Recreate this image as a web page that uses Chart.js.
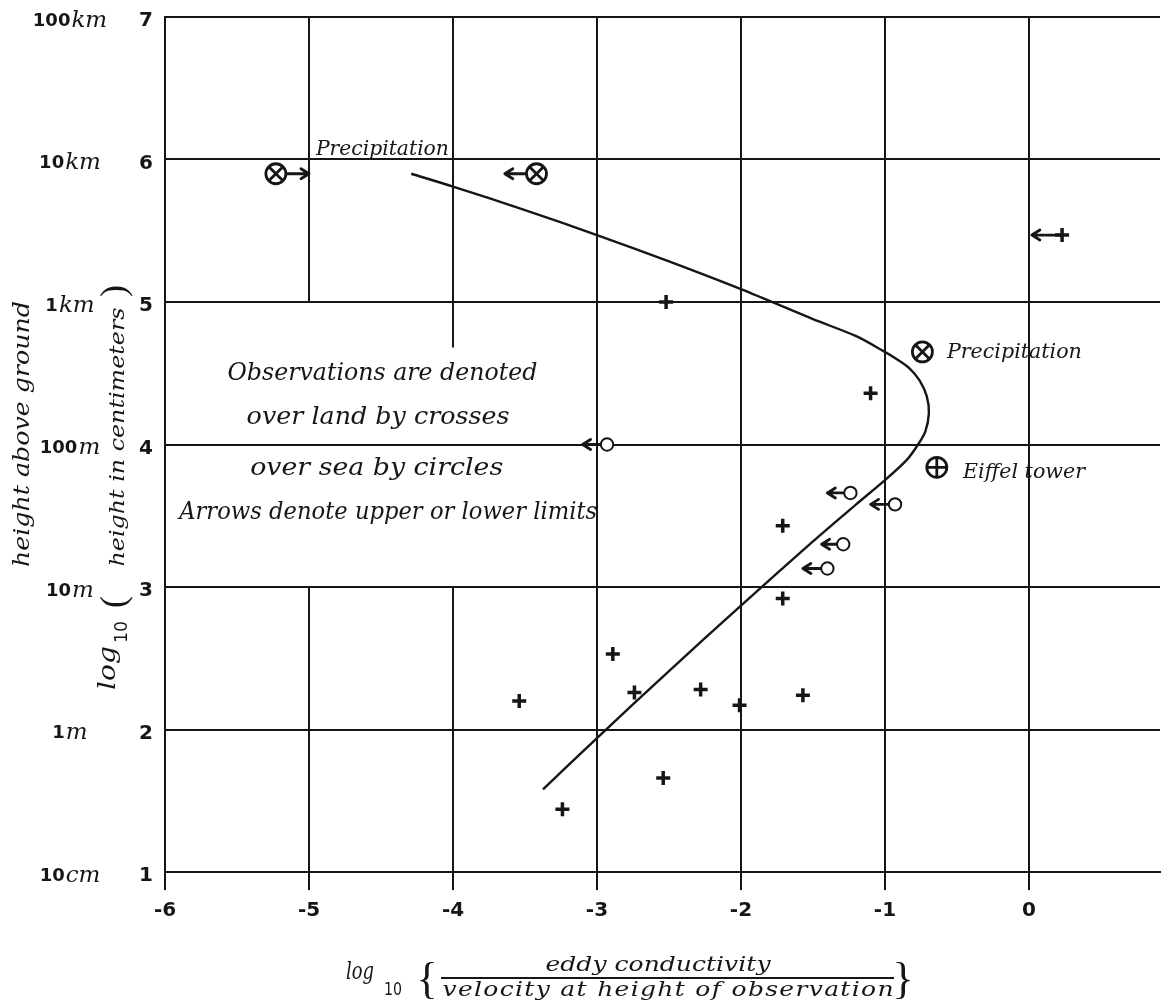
<!DOCTYPE html>
<html><head><meta charset="utf-8">
<script src="https://cdn.jsdelivr.net/npm/chart.js@4.4.1/dist/chart.umd.min.js"></script>
<style>html,body{margin:0;padding:0;background:#fff;overflow:hidden;}#wrap{width:1164px;height:1003px;position:relative;}canvas{display:block;}</style>
</head><body><div id="wrap"><canvas id="c"></canvas></div>
<script>
// ---------- data ----------
const xTicks = [-6, -5, -4, -3, -2, -1, 0];
const yTicks = [1, 2, 3, 4, 5, 6, 7];
const heightLabels = ['10cm', '1m', '10m', '100m', '1km', '10km', '100km'];

const curveX = [-4.29, -4.0, -3.5, -3.0, -2.5, -2.0, -1.5, -1.2, -1.01, -0.92, -0.83, -0.76, -0.71, -0.695, -0.72, -0.77, -0.85, -1.0, -1.2, -1.5, -2.0, -2.5, -3.0, -3.375];
const curveY = [5.90, 5.81, 5.645, 5.47, 5.285, 5.09, 4.88, 4.76, 4.655, 4.60, 4.535, 4.45, 4.34, 4.22, 4.09, 4.00, 3.89, 3.75, 3.58, 3.32, 2.87, 2.41, 1.94, 1.58];

const landX = [-2.52, -1.10, -1.71, -1.71, -2.89, -3.54, -2.74, -2.28, -2.01, -1.57, -2.54, -3.24, 0.23];
const landY = [5.00, 4.36, 3.43, 2.92, 2.53, 2.20, 2.26, 2.28, 2.17, 2.24, 1.66, 1.44, 5.47];
const landLimit = [null, null, null, null, null, null, null, null, null, null, null, null, 0.02];

const seaX = [-2.93, -1.24, -0.93, -1.29, -1.40];
const seaY = [4.00, 3.66, 3.58, 3.30, 3.13];
const seaLimit = [-3.10, -1.40, -1.10, -1.44, -1.57];

const precipX = [-5.23, -3.42, -0.74];
const precipY = [5.90, 5.90, 4.65];
const precipLimit = [-5.0, -3.64, null];

const eiffelX = [-0.64];
const eiffelY = [3.84];

const noteTexts = ['Precipitation', 'Precipitation', 'Eiffel tower'];
const noteX = [-4.49, -0.57, -0.458];
const noteY = [6.03, 4.607, 3.765];

const blockLines = ['Observations are denoted', 'over land by crosses', 'over sea by circles', 'Arrows denote upper or lower limits'];
const blockX = [-4.49, -4.52, -4.53, -4.45];
const blockY = [4.50, 4.186, 3.835, 3.526];

// grid lines interrupted around the text block: [x, [[yFrom,yTo],...]]
const partialGrid = [[-5, [[1, 3], [5, 7]]], [-4, [[1, 3], [4.68, 7]]]];

// ---------- style ----------
const INK = '#161616';
const SCRIPT = '"DejaVu Serif", "Liberation Serif", serif';
const SANS = '"DejaVu Sans", sans-serif';

const pts = (xs, ys) => xs.map((x, i) => ({ x, y: ys[i] }));

function fitText(ctx, text, x, y, width, font, align) {
  ctx.save();
  ctx.font = font;
  ctx.letterSpacing = '0px';
  const w = ctx.measureText(text).width;
  let sx = 1, sp = 0;
  if (width) {
    sx = Math.max(0.7, Math.min(1.25, width / w));
    sp = (width - w * sx) / Math.max(1, text.length - 1) / sx;
  }
  ctx.letterSpacing = sp + 'px';
  const w2 = (ctx.measureText(text).width - sp) * sx;
  ctx.textAlign = 'left';
  const x0 = align === 'center' ? x - w2 / 2 : x;
  ctx.translate(x0, y);
  ctx.scale(sx, 1);
  ctx.fillText(text, 0, 0);
  ctx.restore();
}

function rotText(ctx, text, cx, cy, len, font) {
  ctx.save();
  ctx.translate(cx, cy);
  ctx.rotate(-Math.PI / 2);
  ctx.textBaseline = 'middle';
  fitText(ctx, text, 0, 0, len, font, 'center');
  ctx.restore();
}

function arrow(ctx, x0, y, x1) {
  const d = Math.sign(x1 - x0);
  ctx.beginPath();
  ctx.moveTo(x0, y); ctx.lineTo(x1, y);
  ctx.moveTo(x1 - d * 8, y - 5); ctx.lineTo(x1, y); ctx.lineTo(x1 - d * 8, y + 5);
  ctx.stroke();
}

const paper = {
  id: 'paper',
  beforeDraw(chart) {
    const c = chart.ctx;
    c.save(); c.fillStyle = '#fff'; c.fillRect(0, 0, chart.width, chart.height); c.restore();
  },
  beforeDatasetsDraw(chart) {
    const { ctx, scales: { x, y } } = chart;
    ctx.save();
    ctx.strokeStyle = INK; ctx.lineWidth = 2;
    partialGrid.forEach(([gx, spans]) => {
      const px = x.getPixelForValue(gx);
      spans.forEach(([a, b]) => {
        ctx.beginPath(); ctx.moveTo(px, y.getPixelForValue(a)); ctx.lineTo(px, y.getPixelForValue(b)); ctx.stroke();
      });
    });
    // limit arrows
    ctx.lineWidth = 2.8; ctx.lineCap = 'round'; ctx.lineJoin = 'round';
    const arrows = (xs, ys, lim) => xs.forEach((vx, i) => {
      if (lim[i] === null) return;
      arrow(ctx, x.getPixelForValue(vx), y.getPixelForValue(ys[i]), x.getPixelForValue(lim[i]));
    });
    arrows(landX, landY, landLimit);
    arrows(seaX, seaY, seaLimit);
    arrows(precipX, precipY, precipLimit);
    ctx.restore();
  },
  afterDatasetsDraw(chart) {
    const { ctx, scales: { x, y } } = chart;
    ctx.save();
    ctx.fillStyle = INK;
    ctx.textBaseline = 'alphabetic';
    // notes
    const noteW = [133, 135, 122];
    const noteAlign = ['center', 'left', 'left'];
    noteTexts.forEach((t, i) => {
      fitText(ctx, t, x.getPixelForValue(noteX[i]), y.getPixelForValue(noteY[i]), noteW[i], 'italic 21px ' + SCRIPT, noteAlign[i]);
    });
    // block text
    ctx.textBaseline = 'middle';
    const blockW = [310, 263, 253, 418];
    blockLines.forEach((t, i) => {
      fitText(ctx, t, x.getPixelForValue(blockX[i]), y.getPixelForValue(blockY[i]), blockW[i], 'italic 25px ' + SCRIPT, 'center');
    });
    // height labels
    yTicks.forEach((v, i) => {
      const m = heightLabels[i].match(/^(\d+)(.*)$/);
      const py = y.getPixelForValue(v) + 4;
      ctx.font = 'bold 18px ' + SANS; const w1 = ctx.measureText(m[1]).width;
      ctx.font = 'italic 23px ' + SCRIPT; const w2 = ctx.measureText(m[2]).width;
      const x0 = 70 - (w1 + w2 + 1) / 2;
      ctx.textAlign = 'left';
      ctx.font = 'bold 18px ' + SANS; ctx.fillText(m[1], x0, py);
      ctx.font = 'italic 23px ' + SCRIPT; ctx.fillText(m[2], x0 + w1 + 1, py);
    });
    // y titles
    rotText(ctx, 'height above ground', 23, 434, 266, 'italic 23px ' + SCRIPT);
    rotText(ctx, 'height in centimeters', 119, 437, 259, 'italic 21px ' + SCRIPT);
    rotText(ctx, 'log', 108, 668, 44, 'italic 25px ' + SCRIPT);
    rotText(ctx, '10', 122, 632, 22, '18px ' + SANS);
    rotText(ctx, '(', 116, 602, 0, '36px ' + '"Liberation Serif", serif');
    rotText(ctx, ')', 116, 291, 0, '36px ' + '"Liberation Serif", serif');
    // x title
    ctx.textBaseline = 'middle';
    fitText(ctx, 'log', 360, 972, 28, 'italic 25px ' + SCRIPT, 'center');
    fitText(ctx, '10', 393, 990, 18, '18px ' + SANS, 'center');
    fitText(ctx, '{', 427, 981, 0, '44px "Liberation Serif", serif', 'center');
    fitText(ctx, '}', 903, 981, 0, '44px "Liberation Serif", serif', 'center');
    fitText(ctx, 'eddy conductivity', 658, 966, 225, 'italic 20px ' + SCRIPT, 'center');
    fitText(ctx, 'velocity at height of observation', 668, 991, 451, 'italic 20px ' + SCRIPT, 'center');
    ctx.strokeStyle = INK; ctx.lineWidth = 2;
    ctx.beginPath(); ctx.moveTo(441, 978); ctx.lineTo(894, 978); ctx.stroke();
    ctx.restore();
  }
};

const hidden = [-5, -4];

new Chart(document.getElementById('c'), {
  type: 'scatter',
  data: {
    datasets: [
      { data: pts(precipX, precipY), pointStyle: 'crossRot', pointRadius: 10, borderColor: INK, borderWidth: 2.8 },
      { data: pts(eiffelX, eiffelY), pointStyle: 'cross', pointRadius: 10, borderColor: INK, borderWidth: 2.8 },
      { data: pts(precipX, precipY), pointStyle: 'circle', pointRadius: 10, borderColor: INK, backgroundColor: '#fff', borderWidth: 2.8 },
      { data: pts(eiffelX, eiffelY), pointStyle: 'circle', pointRadius: 10, borderColor: INK, backgroundColor: '#fff', borderWidth: 2.8 },
      { data: pts(seaX, seaY), pointStyle: 'circle', pointRadius: 6.2, borderColor: INK, backgroundColor: '#fff', borderWidth: 2 },
      { data: pts(landX, landY), pointStyle: 'cross', pointRadius: 7, borderColor: INK, borderWidth: 3.5 },
      { data: pts(curveX, curveY), showLine: true, pointRadius: 0, borderColor: INK, borderWidth: 2.4, tension: 0.3, fill: false }
    ]
  },
  options: {
    responsive: true, maintainAspectRatio: false, animation: false, events: [],
    layout: { autoPadding: false, padding: { top: 17, right: 4, left: 0, bottom: 0 } },
    plugins: { legend: { display: false }, tooltip: { enabled: false } },
    scales: {
      x: {
        type: 'linear', min: -6, max: 0.91,
        afterFit: s => { s.height = 131; s.paddingLeft = 0; s.paddingRight = 0; },
        afterBuildTicks: s => { s.ticks = xTicks.map(v => ({ value: v })); },
        border: { display: true, color: INK, width: 2 },
        grid: {
          color: c => (c.tick && hidden.includes(c.tick.value)) ? 'rgba(0,0,0,0)' : INK,
          tickColor: INK, lineWidth: 2, tickLength: 18, drawOnChartArea: true
        },
        ticks: { color: INK, font: { family: SANS, size: 20, weight: 'bold' }, padding: 9, maxRotation: 0 }
      },
      y: {
        type: 'linear', min: 1, max: 7,
        afterFit: s => { s.width = 165; s.paddingTop = 0; s.paddingBottom = 0; },
        afterBuildTicks: s => { s.ticks = yTicks.map(v => ({ value: v })); },
        border: { display: true, color: INK, width: 2 },
        grid: { color: INK, lineWidth: 2, drawTicks: false },
        ticks: { color: INK, font: { family: SANS, size: 20, weight: 'bold' }, padding: 12, labelOffset: 4 }
      }
    }
  },
  plugins: [paper]
});
</script></body></html>
